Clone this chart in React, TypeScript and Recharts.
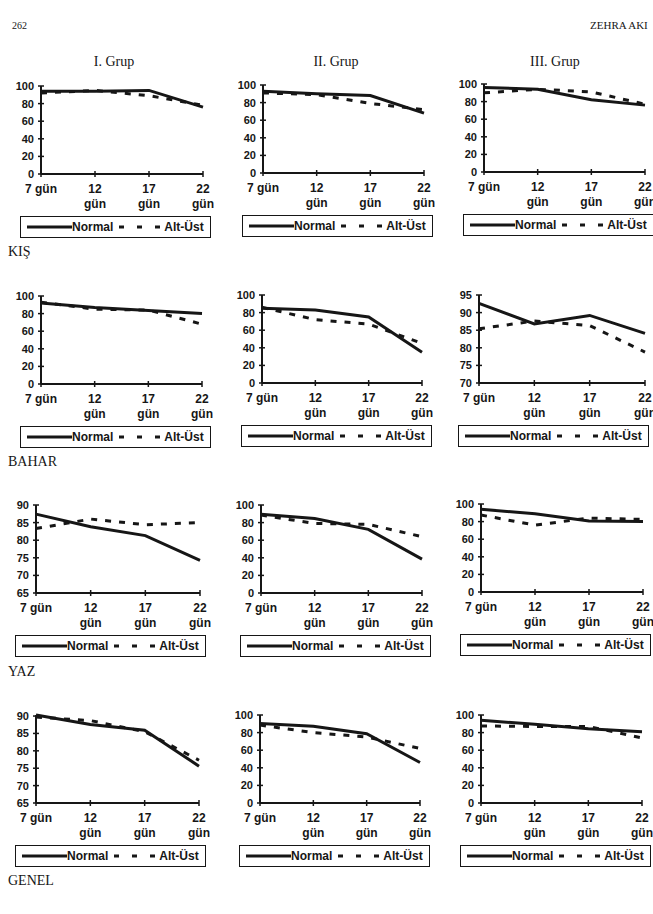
import { LineChart, Line, XAxis, YAxis, Legend } from "recharts";

const INK = "#161616";
const SANS = "'Liberation Sans', Arial, sans-serif";
const SERIF = "'Liberation Serif', 'Times New Roman', serif";

const days = ["7 gün", "12 gün", "17 gün", "22 gün"];
const groups = ["I. Grup", "II. Grup", "III. Grup"];
const seasons = ["KIŞ", "BAHAR", "YAZ", "GENEL"];
const seriesNames = ["Normal", "Alt-Üst"];

// one row per group (I, II, III)
const kisNormal = [[94, 94, 95, 76], [93, 90, 88, 68], [96, 94, 82, 76]];
const kisAltUst = [[92, 95, 89, 78], [91, 89, 79, 72], [90, 94, 91, 77]];
const baharNormal = [[92, 87, 83.5, 80], [85, 83, 75, 35], [92.6, 86.8, 89.2, 84.1]];
const baharAltUst = [[93, 85, 84, 68], [86, 72, 67, 45], [85.4, 87.6, 86.3, 78.8]];
const yazNormal = [[87.4, 83.8, 81.3, 74.3], [89.6, 84.6, 72.3, 38.5], [94, 89, 80.6, 80]];
const yazAltUst = [[83.3, 86, 84.4, 85], [88.5, 79, 78, 64], [87.5, 76, 84, 82.5]];
const genelNormal = [[90.3, 87.6, 85.9, 75.6], [90.4, 87.3, 78.8, 46], [94, 89.4, 84.4, 81]];
const genelAltUst = [[89.7, 88.7, 85.5, 77.3], [88.5, 80, 75, 62], [87.5, 87, 87, 74]];

const ticks0to100 = [0, 20, 40, 60, 80, 100];
const ticks70to95 = [70, 75, 80, 85, 90, 95];
const ticks65to90 = [65, 70, 75, 80, 85, 90];

const normalRows = [kisNormal, baharNormal, yazNormal, genelNormal];
const altRows = [kisAltUst, baharAltUst, yazAltUst, genelAltUst];
const tickRows = [
  [ticks0to100, ticks0to100, ticks0to100],
  [ticks0to100, ticks0to100, ticks70to95],
  [ticks65to90, ticks0to100, ticks0to100],
  [ticks65to90, ticks0to100, ticks0to100],
];

// y-axis x, top of plot, plot width
const frames = [
  [{ x: 41, top: 86, w: 162 }, { x: 263, top: 85, w: 161 }, { x: 484, top: 84, w: 161 }],
  [{ x: 41, top: 296, w: 161 }, { x: 262, top: 295, w: 160 }, { x: 479, top: 295, w: 166 }],
  [{ x: 36, top: 505, w: 164 }, { x: 261, top: 505, w: 161 }, { x: 481, top: 504, w: 162 }],
  [{ x: 36, top: 715, w: 163 }, { x: 260, top: 715, w: 160 }, { x: 481, top: 715, w: 161 }],
];
const seasonLabelY = [253, 463, 673, 882];
const groupCenters = [114, 336, 555];

const YAW = 40;
const MT = 6;
const PH = 88;
const XAH = 40;
const MR = 14;
const CH = 164;

const yTextStyle = { fontFamily: SANS, fontWeight: 700, fontSize: 11, fill: INK };
const xTextStyle = { fontFamily: SANS, fontWeight: 700, fontSize: 12, fill: INK };

function YTick({ x, y, payload }: any) {
  return (
    <g>
      <line x1={x - 3} x2={x + 3} y1={y} y2={y} stroke={INK} strokeWidth={1.5} />
      <text x={x - 7} y={y} dy={4} textAnchor="end" style={yTextStyle}>
        {payload.value}
      </text>
    </g>
  );
}

function XTick({ x, y, payload, index }: any) {
  const parts = String(payload.value).split(" ");
  return (
    <g>
      <line x1={x} x2={x} y1={y - 3} y2={y + 3} stroke={INK} strokeWidth={1.5} />
      {index === 0 ? (
        <text x={x} y={y + 19} textAnchor="middle" style={xTextStyle}>
          {payload.value}
        </text>
      ) : (
        <text x={x} y={y + 19} textAnchor="middle" style={xTextStyle}>
          <tspan x={x}>{parts[0]}</tspan>
          <tspan x={x} dy={15}>{parts[1]}</tspan>
        </text>
      )}
    </g>
  );
}

function LegendBox({ payload }: any) {
  const items = [...(payload ?? [])].sort(
    (a: any, b: any) => seriesNames.indexOf(a.value) - seriesNames.indexOf(b.value),
  );
  return (
    <div
      style={{
        boxSizing: "border-box",
        width: 191,
        height: 22,
        border: `1.5px solid ${INK}`,
        display: "flex",
        alignItems: "center",
        paddingLeft: 6,
        fontFamily: SANS,
        fontWeight: 700,
        fontSize: 12,
        color: INK,
        background: "#fff",
        whiteSpace: "nowrap",
      }}
    >
      {items.map((entry: any, i: number) => {
        const dashed = Boolean(entry.payload?.strokeDasharray);
        return (
          <span
            key={entry.value}
            style={{ display: "flex", alignItems: "center", marginLeft: i === 0 ? 0 : 6 }}
          >
            <svg width={dashed ? 42 : 45} height={6} style={{ marginRight: dashed ? 3 : 0 }}>
              <line
                x1={0}
                x2={dashed ? 42 : 45}
                y1={3}
                y2={3}
                stroke={INK}
                strokeWidth={3}
                strokeDasharray={dashed ? "5 13" : undefined}
              />
            </svg>
            <span>{entry.value}</span>
          </span>
        );
      })}
    </div>
  );
}

function MiniChart({ frame, normal, altUst, ticks }: any) {
  const data = days.map((d, i) => ({ day: d, normal: normal[i], altUst: altUst[i] }));
  const width = YAW + frame.w + MR;
  return (
    <div style={{ position: "absolute", left: frame.x - YAW, top: frame.top - MT }}>
      <LineChart
        width={width}
        height={CH}
        data={data}
        margin={{ top: MT, right: MR, left: 0, bottom: CH - MT - PH - XAH }}
      >
        <XAxis
          dataKey="day"
          height={XAH}
          interval={0}
          tickSize={0}
          tickMargin={0}
          tickLine={false}
          axisLine={{ stroke: INK, strokeWidth: 2 }}
          tick={(p: any) => <XTick {...p} />}
        />
        <YAxis
          width={YAW}
          domain={[ticks[0], ticks[ticks.length - 1]]}
          ticks={ticks}
          interval={0}
          tickSize={0}
          tickMargin={0}
          tickLine={false}
          axisLine={{ stroke: INK, strokeWidth: 2 }}
          tick={(p: any) => <YTick {...p} />}
        />
        <Legend
          layout="horizontal"
          verticalAlign="middle"
          align="center"
          content={(p: any) => <LegendBox {...p} />}
          wrapperStyle={{ left: YAW - 21, top: MT + PH + 42, width: 191, height: 22 }}
        />
        <Line
          type="linear"
          dataKey="normal"
          name={seriesNames[0]}
          stroke={INK}
          strokeWidth={3}
          dot={false}
          isAnimationActive={false}
        />
        <Line
          type="linear"
          dataKey="altUst"
          name={seriesNames[1]}
          stroke={INK}
          strokeWidth={3}
          strokeDasharray="6 8"
          dot={false}
          isAnimationActive={false}
        />
      </LineChart>
    </div>
  );
}

export default function App() {
  return (
    <div
      style={{
        position: "absolute",
        left: 0,
        top: 0,
        width: 653,
        height: 914,
        overflow: "hidden",
        background: "#fff",
        color: INK,
      }}
    >
      <div style={{ position: "absolute", left: 12, top: 20, fontFamily: SERIF, fontSize: 10 }}>262</div>
      <div
        style={{ position: "absolute", left: 590, top: 19, fontFamily: SERIF, fontSize: 11, whiteSpace: "nowrap" }}
      >
        ZEHRA AKI
      </div>
      {groups.map((g, i) => (
        <div
          key={g}
          style={{
            position: "absolute",
            left: groupCenters[i] - 50,
            width: 100,
            top: 54,
            textAlign: "center",
            fontFamily: SERIF,
            fontSize: 14,
          }}
        >
          {g}
        </div>
      ))}
      {seasons.map((s, r) => (
        <div
          key={s}
          style={{
            position: "absolute",
            left: 8,
            top: seasonLabelY[r] - 9,
            fontFamily: SERIF,
            fontSize: 14,
          }}
        >
          {s}
        </div>
      ))}
      {frames.map((row, r) =>
        row.map((frame, c) => (
          <MiniChart
            key={`${r}-${c}`}
            frame={frame}
            normal={normalRows[r][c]}
            altUst={altRows[r][c]}
            ticks={tickRows[r][c]}
          />
        )),
      )}
    </div>
  );
}
